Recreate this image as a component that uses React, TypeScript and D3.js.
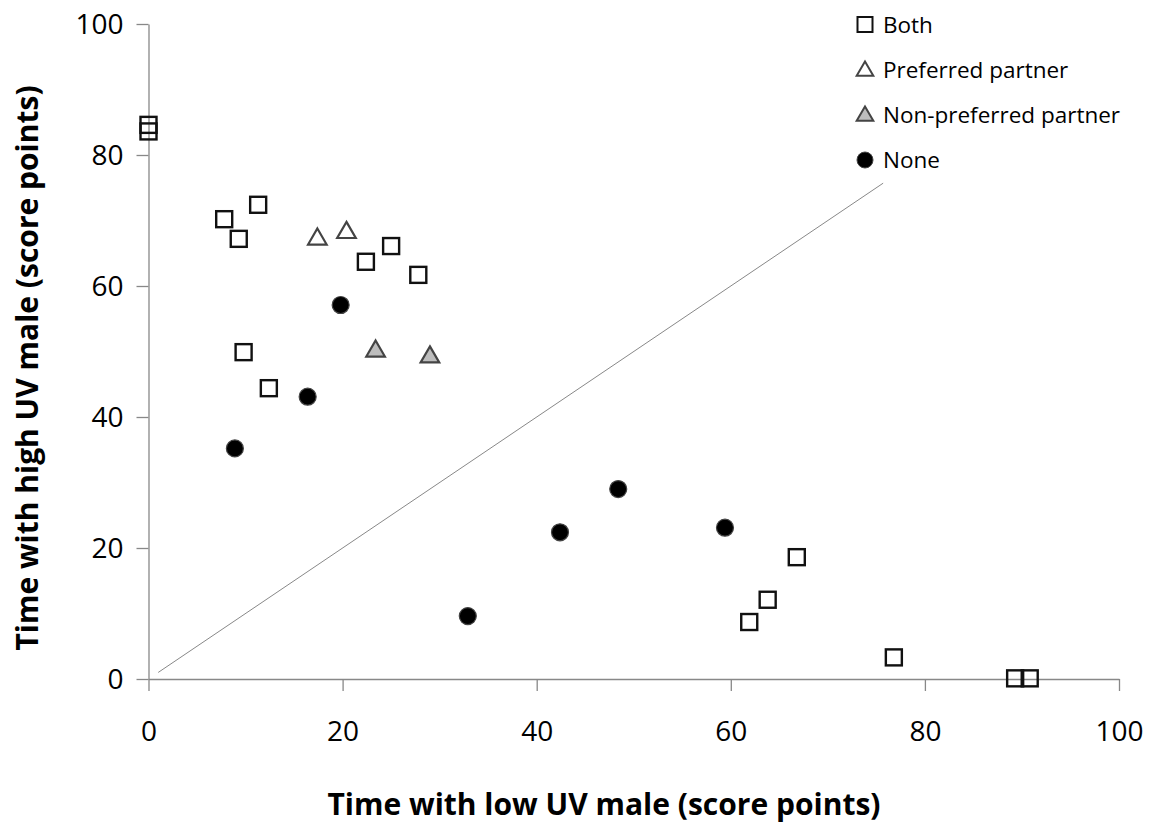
import React, { useRef, useEffect } from 'react'
import * as d3 from 'd3'

// series: [low UV, high UV]
const both: [number, number][] = [
  [0, 84.6], [0, 83.6], [7.8, 70.2], [11.3, 72.4], [9.3, 67.2], [22.4, 63.7],
  [25.0, 66.1], [27.8, 61.7], [9.8, 49.9], [12.4, 44.4], [66.8, 18.6],
  [63.8, 12.1], [61.9, 8.7], [76.8, 3.3], [89.3, 0.1], [90.8, 0.1],
]
const preferred: [number, number][] = [[17.4, 67.3], [20.4, 68.3]]
const nonPreferred: [number, number][] = [[23.4, 50.2], [29.0, 49.3]]
const none: [number, number][] = [
  [19.8, 57.1], [16.4, 43.1], [8.9, 35.2], [32.9, 9.6],
  [42.4, 22.4], [48.4, 29.0], [59.4, 23.1],
]
const refLine: [number, number][] = [[1, 1], [75.7, 75.7]]
const ticks = [0, 20, 40, 60, 80, 100]
const legendLabels = ['Both', 'Preferred partner', 'Non-preferred partner', 'None']

const font = "'Open Sans', sans-serif"

export default function App() {
  const svgRef = useRef<SVGSVGElement>(null)

  useEffect(() => {
    const svg = d3.select(svgRef.current)
    svg.selectAll('*').remove()

    const x = d3.scaleLinear().domain([0, 100]).range([148.5, 1119])
    const y = d3.scaleLinear().domain([0, 100]).range([679, 24])

    // axes
    const xAxis = svg.append('g')
      .attr('transform', `translate(0,${y(0)})`)
      .call(d3.axisBottom(x).tickValues(ticks).tickSize(12).tickPadding(30).tickSizeOuter(0))
    const yAxis = svg.append('g')
      .attr('transform', `translate(${x(0)},0)`)
      .call(d3.axisLeft(y).tickValues(ticks).tickSize(12).tickPadding(13).tickSizeOuter(0))
    ;[xAxis, yAxis].forEach(g => {
      g.select('.domain').attr('stroke', '#888').attr('stroke-width', 1.3)
      g.selectAll('.tick line').attr('stroke', '#888').attr('stroke-width', 1.3)
      g.selectAll('.tick text')
        .attr('fill', '#000')
        .style('font-family', font)
        .style('font-size', '28px')
    })
    yAxis.selectAll('.tick text').attr('dy', '0.35em')

    // reference line y = x
    svg.append('path')
      .datum(refLine)
      .attr('d', d3.line().x(d => x(d[0])).y(d => y(d[1])))
      .attr('stroke', '#888')
      .attr('stroke-width', 1)
      .attr('fill', 'none')

    const sq = 16
    const tri = d3.symbol().type(d3.symbolTriangle).size(150)

    svg.append('g').selectAll('rect').data(both).join('rect')
      .attr('x', d => x(d[0]) - sq / 2)
      .attr('y', d => y(d[1]) - sq / 2)
      .attr('width', sq).attr('height', sq)
      .attr('fill', 'none').attr('stroke', '#111').attr('stroke-width', 2.4)

    svg.append('g').selectAll('path').data(preferred).join('path')
      .attr('d', tri)
      .attr('transform', d => `translate(${x(d[0])},${y(d[1]) + 1})`)
      .attr('fill', '#fff').attr('stroke', '#444').attr('stroke-width', 2.2)

    svg.append('g').selectAll('path').data(nonPreferred).join('path')
      .attr('d', tri)
      .attr('transform', d => `translate(${x(d[0])},${y(d[1]) + 1})`)
      .attr('fill', '#bdbdbd').attr('stroke', '#444').attr('stroke-width', 2.2)

    svg.append('g').selectAll('circle').data(none).join('circle')
      .attr('cx', d => x(d[0])).attr('cy', d => y(d[1]))
      .attr('r', 8.5)
      .attr('fill', '#000').attr('stroke', '#444').attr('stroke-width', 1.2)

    // legend
    const leg = svg.append('g').attr('transform', 'translate(865,25)')
    const items = leg.selectAll('g').data(legendLabels).join('g')
      .attr('transform', (_d, i) => `translate(0,${i * 45})`)
    items.each(function (_d, i) {
      const g = d3.select(this)
      if (i === 0) {
        g.append('rect').attr('x', -7.5).attr('y', -8).attr('width', 15).attr('height', 15)
          .attr('fill', 'none').attr('stroke', '#111').attr('stroke-width', 2)
      } else if (i === 3) {
        g.append('circle').attr('r', 8).attr('fill', '#000').attr('stroke', '#444')
      } else {
        g.append('path').attr('d', d3.symbol().type(d3.symbolTriangle).size(120)())
          .attr('transform', 'translate(0,1)')
          .attr('fill', i === 1 ? '#fff' : '#bdbdbd')
          .attr('stroke', '#444').attr('stroke-width', 2)
      }
    })
    items.append('text')
      .attr('x', 18).attr('dy', '0.35em')
      .style('font-family', font).style('font-size', '22.5px')
      .attr('fill', '#000')
      .text(d => d)

    // axis titles
    svg.append('text')
      .attr('x', 604).attr('y', 815)
      .attr('text-anchor', 'middle')
      .style('font-family', font).style('font-size', '30px').style('font-weight', 'bold')
      .text('Time with low UV male (score points)')
    svg.append('text')
      .attr('transform', 'translate(38,368) rotate(-90)')
      .attr('text-anchor', 'middle')
      .style('font-family', font).style('font-size', '30px').style('font-weight', 'bold')
      .text('Time with high UV male (score points)')
  }, [])

  return (
    <svg ref={svgRef} width={1158} height={827}
      style={{ position: 'absolute', left: 0, top: 0, background: '#fff' }} />
  )
}
